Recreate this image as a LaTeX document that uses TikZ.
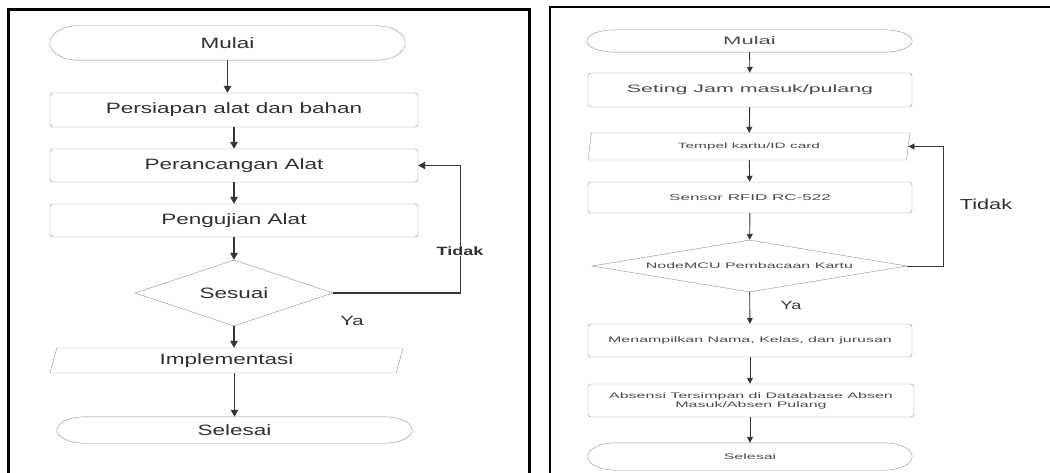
\documentclass[tikz,border=0pt]{standalone}
\usepackage{fontspec}
\setmainfont{Liberation Sans}
\newfontfamily\leftfont[FakeStretch=1.5]{Liberation Sans}
\newfontfamily\rightfont[FakeStretch=2]{Liberation Sans}
\usetikzlibrary{shapes.geometric,arrows.meta,calc}

\definecolor{linegray}{HTML}{8E8E8E}
\definecolor{arrowgray}{HTML}{353535}
\definecolor{textgray}{HTML}{303030}
\definecolor{rtextgray}{HTML}{4A4A4A}

\newcommand*{\lcol}{234}
\newcommand*{\rcol}{750}

\begin{document}
\begin{tikzpicture}
[
	x=1pt, y=-1pt,
	box/.style={rectangle,draw=linegray,rounded corners=3pt,inner sep=0pt},
	term/.style={rectangle,inner sep=0pt},
	io/.style={trapezium,trapezium left angle=64,trapezium right angle=116,trapezium stretches body,draw=linegray,inner sep=0pt},
	decision/.style={diamond,draw=linegray,inner sep=0pt},
	flow/.style={draw=arrowgray,line width=1.2pt,-{Triangle[length=7pt,width=7.5pt]}},
	rflow/.style={draw=arrowgray,line width=0.9pt,-{Triangle[length=6pt,width=6pt]}},
	ltext/.style={text=textgray,font=\leftfont\fontsize{15}{18}\selectfont},
	rtext/.style={text=rtextgray,font=\rightfont\fontsize{8}{9}\selectfont}
]

	\useasboundingbox (0,0) rectangle (1050,473);

	% frames
	\draw[line width=3pt] (8,473) -- (8,10) -- (529,10) -- (529,473);
	\draw[line width=2pt] (550,473) -- (550,7) -- (1050,7);

	% left chart
	\node[term,minimum width=355pt,minimum height=34pt,ltext] (mulaiA) at (227.5,43) {Mulai};
	\node[box,minimum width=368pt,minimum height=34pt,ltext] (persiapan) at (\lcol,110) {Persiapan alat dan bahan};
	\node[box,minimum width=368pt,minimum height=33pt,ltext] (perancangan) at (\lcol,165.5) {Perancangan Alat};
	\node[box,minimum width=368pt,minimum height=33pt,ltext] (pengujian) at (\lcol,220.5) {Pengujian Alat};
	\node[decision,minimum width=198pt,minimum height=66pt,aspect=3,ltext] (sesuai) at (\lcol,293) {Sesuai};
	\node[io,minimum width=353pt,minimum height=25pt,ltext] (implementasi) at (226.5,360.5) {Implementasi};
	\node[term,minimum width=355pt,minimum height=26pt,ltext] (selesaiA) at (234.5,430) {Selesai};

	\draw[flow] (mulaiA) -- (mulaiA |- persiapan.north);
	\draw[flow] (persiapan) -- (perancangan);
	\draw[flow] (perancangan) -- (pengujian);
	\draw[flow] (pengujian) -- (sesuai);
	\draw[flow] (sesuai.south) -- (sesuai.south |- implementasi.north);
	\draw[flow] (selesaiA |- implementasi.south) -- (selesaiA);
	\draw[flow] (sesuai.east) -- ++(127,0) |- (perancangan.east);

	\node[ltext,font=\leftfont\bfseries\fontsize{12}{14}\selectfont,fill=white,inner sep=1pt] (tidakA) at (460,251) {Tidak};
	\node[ltext,font=\leftfont\fontsize{13.5}{16}\selectfont] (yaA) at (352,321) {Ya};

	% right chart
	\node[term,minimum width=325pt,minimum height=22pt,rtext,font=\rightfont\fontsize{11}{13}\selectfont] (mulaiB) at (749.5,41) {Mulai};
	\node[box,minimum width=324pt,minimum height=34pt,rtext,font=\rightfont\fontsize{10.7}{13}\selectfont] (seting) at (\rcol,90) {Seting Jam masuk/pulang};
	\node[io,minimum width=322pt,minimum height=27pt,rtext,font=\rightfont\fontsize{7.7}{9}\selectfont] (tempel) at (749,146.5) {Tempel kartu/ID card};
	\node[box,minimum width=324pt,minimum height=31pt,rtext,font=\rightfont\fontsize{8.5}{10}\selectfont] (sensor) at (\rcol,197.5) {Sensor RFID RC-522};
	\node[decision,minimum width=315pt,minimum height=52pt,aspect=6,rtext] (nodemcu) at (749.5,266) {NodeMCU Pembacaan Kartu};
	\node[box,minimum width=324pt,minimum height=33pt,rtext] (menampilkan) at (\rcol,340.5) {Menampilkan Nama, Kelas, dan jurusan};
	\node[box,minimum width=326pt,minimum height=33pt,rtext,align=center] (absensi) at (751,400.5) {Absensi Tersimpan di Dataabase Absen\\Masuk/Absen Pulang};
	\node[term,minimum width=324pt,minimum height=27pt,rtext] (selesaiB) at (\rcol,456.5) {Selesai};

	\draw[rflow] (mulaiB) -- (seting);
	\draw[rflow] (seting) -- (tempel);
	\draw[rflow] (tempel) -- (sensor);
	\draw[rflow] (sensor) -- (nodemcu);
	\draw[rflow] (nodemcu) -- (menampilkan);
	\draw[rflow] (menampilkan) -- (absensi.north -| menampilkan);
	\draw[rflow] (absensi.south -| selesaiB) -- (selesaiB);
	\draw[rflow] (nodemcu.east) -- ++(36,0) |- (tempel.east);

	\node[ltext,font=\leftfont\fontsize{14.5}{17}\selectfont] (tidakB) at (986,204) {Tidak};
	\node[ltext,font=\leftfont\fontsize{12}{14}\selectfont] (yaB) at (791,305) {Ya};

	% terminal outlines
	\foreach \t in {mulaiA,selesaiA,mulaiB,selesaiB}
		\draw[linegray] let \p1=(\t.north), \p2=(\t.south), \n1={(\y1-\y2)/2} in
			([xshift=28pt]\t.north west) -- ([xshift=-28pt]\t.north east)
			arc[start angle=90, end angle=-90, x radius=28pt, y radius=\n1]
			-- ([xshift=28pt]\t.south west)
			arc[start angle=270, end angle=90, x radius=28pt, y radius=\n1] -- cycle;

\end{tikzpicture}
\end{document}
